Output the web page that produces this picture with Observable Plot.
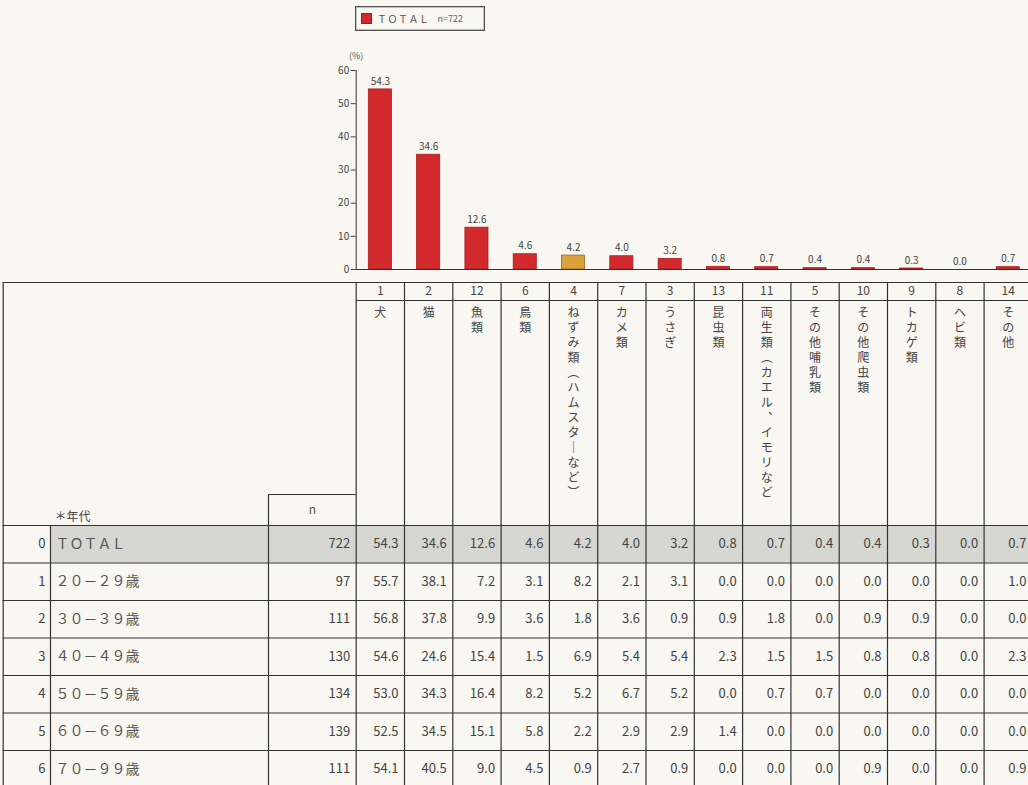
<!DOCTYPE html>
<html>
<head>
<meta charset="utf-8">
<script src="https://cdn.jsdelivr.net/npm/d3@7"></script>
<script src="https://cdn.jsdelivr.net/npm/@observablehq/plot@0.6"></script>
<style>
  html, body { margin: 0; padding: 0; background: #f8f7f1; }
  #wrap { position: relative; width: 1028px; height: 785px; overflow: hidden; font-family: "Noto Sans CJK JP", "Noto Sans", sans-serif; }
  #wrap svg { display: block; }
  #legend { position: absolute; left: 355px; top: 6px; width: 130px; height: 25px; box-sizing: border-box;
    border: 1px solid #555; box-shadow: inset 0 0 0 1px #bbb; display: flex; align-items: center; color: #555; }
  #legend .sw { width: 11px; height: 11px; background: #d02a2c; border: 1px solid #a01818; margin-left: 5px; box-sizing: border-box; }
  #legend .t { font-size: 10px; margin-left: 5px; letter-spacing: 0.5px; }
  #legend .n { font-size: 9px; margin-left: 8px; color: #666; }
</style>
</head>
<body>
<div id="wrap">
  <div id="top"></div>
  <div id="bottom"></div>
  <div id="legend"><span class="sw"></span><span class="t">ＴＯＴＡＬ</span><span class="n">n=722</span></div>
</div>
<script>
// ---------- data ----------
const categories = ["犬","猫","魚類","鳥類","ねずみ類（ハムスターなど）","カメ類","うさぎ","昆虫類","両生類（カエル、イモリなど","その他哺乳類","その他爬虫類","トカゲ類","ヘビ類","その他"];
const codes = [1,2,12,6,4,7,3,13,11,5,10,9,8,14];
const ageGroups = ["ＴＯＴＡＬ","２０－２９歳","３０－３９歳","４０－４９歳","５０－５９歳","６０－６９歳","７０－９９歳"];
const nValues = [722,97,111,130,134,139,111];
const totalRow = [54.3,34.6,12.6,4.6,4.2,4.0,3.2,0.8,0.7,0.4,0.4,0.3,0.0,0.7];
const age20s = [55.7,38.1,7.2,3.1,8.2,2.1,3.1,0.0,0.0,0.0,0.0,0.0,0.0,1.0];
const age30s = [56.8,37.8,9.9,3.6,1.8,3.6,0.9,0.9,1.8,0.0,0.9,0.9,0.0,0.0];
const age40s = [54.6,24.6,15.4,1.5,6.9,5.4,5.4,2.3,1.5,1.5,0.8,0.8,0.0,2.3];
const age50s = [53.0,34.3,16.4,8.2,5.2,6.7,5.2,0.0,0.7,0.7,0.0,0.0,0.0,0.0];
const age60s = [52.5,34.5,15.1,5.8,2.2,2.9,2.9,1.4,0.0,0.0,0.0,0.0,0.0,0.0];
const age70s = [54.1,40.5,9.0,4.5,0.9,2.7,0.9,0.0,0.0,0.0,0.9,0.0,0.0,0.9];
const yTicks = [0,10,20,30,40,50,60];

// ---------- layout (column units / row units) ----------
const W = 1028, COLPX = 48.3, X0 = 355.7;          // first category column left edge in px
const toU = px => (px - X0) / COLPX;
const xDomain = [toU(0), toU(W)];
const xLeft = toU(2.7), xNum = toU(50), xN = toU(268), xEnd = categories.length;
const ROWPX = 37.5, ROW0 = 525, BOT_TOP = 280, BOT_H = 505;
const toR = py => (py - ROW0) / ROWPX;
const yDomainB = [toR(BOT_TOP), toR(BOT_TOP + BOT_H)];
const rHeadTop = toR(282), rHeadNum = toR(300), rNTop = toR(494), rEnd = 7.2;

const font = '"Noto Sans CJK JP", "Noto Sans", sans-serif';
const ink = "#444";

// ---------- bar chart ----------
const bars = categories.map((c, i) => ({cat: c, col: i, value: totalRow[i]}));
const topPlot = Plot.plot({
  width: W, height: 280,
  marginLeft: X0, marginRight: 0, marginTop: 70, marginBottom: 11,
  style: {background: "transparent", fontFamily: font, color: ink, fontSize: "10px"},
  x: {domain: xDomain, range: [0, W], axis: null},
  y: {domain: [0, 60], ticks: yTicks, tickSize: 5, tickPadding: 2, label: null},
  color: {type: "identity"},
  marks: [
    Plot.rectY(bars, {x1: d => d.col, x2: d => d.col + 1, y: "value", insetLeft: 12.6, insetRight: 12.6,
      fill: d => d.col === 4 ? "#d9a23c" : "#d22a2c",
      stroke: d => d.col === 4 ? "#a8601c" : "#a81c1e", strokeWidth: 0.8}),
    Plot.ruleY([0], {x1: 0, x2: xDomain[1], stroke: "#333", strokeWidth: 1.2}),
    Plot.ruleX([0], {y1: 0, y2: 60, stroke: "#333", strokeWidth: 1}),
    Plot.text(bars, {x: d => d.col + 0.5, y: "value", dy: -8, text: d => d.value.toFixed(1), fontSize: 10, fill: ink}),
    Plot.text(["(%)"], {x: 0, y: 60, dy: -14, text: d => d, fontSize: 9, fill: "#555"})
  ]
});
document.getElementById("top").appendChild(topPlot);

// ---------- table ----------
const rowsData = [totalRow, age20s, age30s, age40s, age50s, age60s, age70s];
const cells = rowsData.flatMap((vals, r) => vals.map((v, c) => ({row: r, col: c, v})));
const hLines = [
  {y: rHeadTop, x1: xLeft, x2: xEnd},
  {y: rHeadNum, x1: 0, x2: xEnd},
  {y: rNTop, x1: xN, x2: 0},
  ...d3.range(0, 8).map(r => ({y: r, x1: xLeft, x2: xEnd}))
];
const vLines = [
  {x: xLeft, y1: rHeadTop, y2: rEnd},
  {x: xNum, y1: 0, y2: rEnd},
  {x: xN, y1: rNTop, y2: rEnd},
  ...d3.range(0, categories.length + 1).map(i => ({x: i, y1: rHeadTop, y2: rEnd}))
];
const verticalForm = s => Array.from(s).map(ch => ({"（": "︵", "）": "︶", "ー": "｜", "、": "︑"}[ch] || ch)).join("\n");

const bottomPlot = Plot.plot({
  width: W, height: BOT_H, margin: 0,
  style: {background: "transparent", fontFamily: font, color: ink},
  x: {domain: xDomain, range: [0, W], axis: null},
  y: {domain: yDomainB, range: [0, BOT_H], axis: null},
  marks: [
    Plot.rect([0], {x1: xNum, x2: xEnd, y1: 0, y2: 1, fill: "#d6d6d2"}),
    Plot.ruleY(hLines, {y: "y", x1: "x1", x2: "x2", stroke: "#333", strokeWidth: 1.2}),
    Plot.ruleX(vLines, {x: "x", y1: "y1", y2: "y2", stroke: "#333", strokeWidth: 1.2}),
    Plot.text(codes, {x: (d, i) => i + 0.5, y: (rHeadTop + rHeadNum) / 2, text: d => String(d), fontSize: 12, fill: ink}),
    Plot.text(categories, {x: (d, i) => i + 0.5, y: rHeadNum, dy: 6, text: verticalForm, lineAnchor: "top", lineHeight: 1.25, fontSize: 12, fill: ink}),
    Plot.text(["＊年代"], {x: xNum, y: 0, dx: 4, dy: -8, text: d => d, textAnchor: "start", fontSize: 12, fill: ink}),
    Plot.text(["n"], {x: (xN + 0) / 2, y: rNTop / 2, text: d => d, fontSize: 12, fill: "#555"}),
    Plot.text(ageGroups, {x: xNum, dx: -5, y: (d, i) => i + 0.5, text: (d, i) => String(i), textAnchor: "end", fontSize: 13, fill: ink}),
    Plot.text(ageGroups, {x: xNum, dx: 5, y: (d, i) => i + 0.5, text: d => d, textAnchor: "start", fontSize: 14, fill: "#555"}),
    Plot.text(nValues, {x: 0, dx: -6, y: (d, i) => i + 0.5, text: d => String(d), textAnchor: "end", fontSize: 13, fill: ink}),
    Plot.text(cells, {x: d => d.col + 1, dx: -6, y: d => d.row + 0.5, text: d => d.v.toFixed(1), textAnchor: "end", fontSize: 13, fill: ink})
  ]
});
document.getElementById("bottom").appendChild(bottomPlot);
</script>
</body>
</html>
